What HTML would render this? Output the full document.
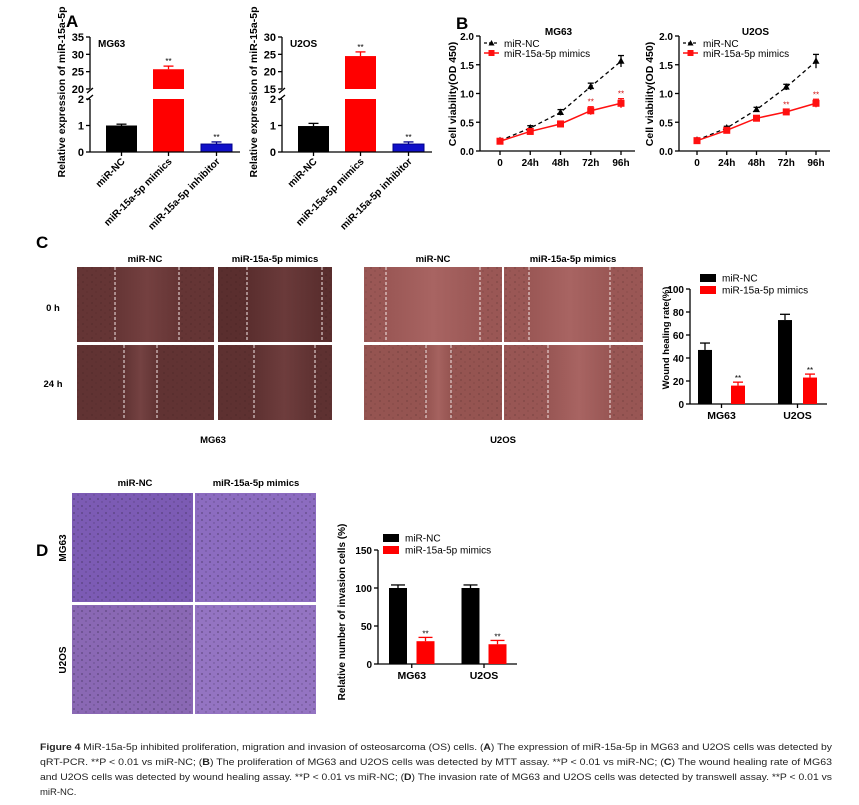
<!DOCTYPE html>
<html><head><meta charset="utf-8"><style>
html,body{margin:0;padding:0;background:#fff;}
svg{display:block;font-family:"Liberation Sans",Arial,sans-serif;}
</style></head><body>
<svg id="fig" width="859" height="805" viewBox="0 0 859 805" xmlns="http://www.w3.org/2000/svg">
<defs>
<pattern id="speck" width="9" height="7" patternUnits="userSpaceOnUse"><circle cx="2" cy="2" r="0.6" fill="#2a1414" opacity="0.5"/><circle cx="6" cy="5" r="0.5" fill="#2a1414" opacity="0.4"/></pattern>
<pattern id="speckP" width="8" height="7" patternUnits="userSpaceOnUse"><circle cx="2" cy="2" r="0.9" fill="#3a2a50" opacity="0.55"/><circle cx="6" cy="5" r="0.7" fill="#3a2a50" opacity="0.45"/></pattern>
</defs>
<g id="root"></g>
</svg>
<script>
// Panel A data
const aCats=['miR-NC','miR-15a-5p mimics','miR-15a-5p inhibitor'];
const aMG63=[1.0,25.7,0.3];
const aMG63Err=[0.05,0.9,0.08];
const aU2OS=[0.98,24.5,0.3];
const aU2OSErr=[0.1,1.2,0.08];
const aMG63Upper=[20,25,30,35];
const aU2OSUpper=[15,20,25,30];
const aLower=[0,1,2];
// Panel B data
const bTimes=['0','24h','48h','72h','96h'];
const bTicks=[0.0,0.5,1.0,1.5,2.0];
const bMG63NC=[0.18,0.40,0.67,1.12,1.56];
const bMG63NCErr=[0.02,0.04,0.05,0.06,0.10];
const bMG63Mim=[0.17,0.34,0.47,0.70,0.83];
const bMG63MimErr=[0.02,0.03,0.05,0.07,0.08];
const bU2OSNC=[0.19,0.40,0.72,1.11,1.56];
const bU2OSNCErr=[0.02,0.03,0.04,0.05,0.12];
const bU2OSMim=[0.18,0.36,0.57,0.68,0.83];
const bU2OSMimErr=[0.02,0.03,0.03,0.04,0.07];
// Panel C data
const cCats=['MG63','U2OS'];
const cNC=[47,73];
const cNCErr=[6,5];
const cMim=[16,23];
const cMimErr=[3,3];
const cTicks=[0,20,40,60,80,100];
// Panel D data
const dCats=['MG63','U2OS'];
const dNC=[100,100];
const dNCErr=[4,4];
const dMim=[30,26];
const dMimErr=[5,5];
const dTicks=[0,50,100,150];

const NS='http://www.w3.org/2000/svg';
const root=document.getElementById('root');
function el(tag,attrs,parent,text){const e=document.createElementNS(NS,tag);for(const k in attrs)e.setAttribute(k,attrs[k]);if(text!==undefined)e.textContent=text;(parent||root).appendChild(e);return e;}
function grp(name){const g=el('g',{});


return g;}
function line(g,x1,y1,x2,y2,st){return el('line',Object.assign({x1,y1,x2,y2,stroke:'#000','stroke-width':1.3},st||{}),g);}
function txt(g,x,y,s,o){return el('text',Object.assign({x,y,'font-size':10,'font-weight':'bold','text-anchor':'middle',fill:'#000'},o||{}),g,s);}
function errbar(g,x,yTop,yBase,w,color){line(g,x,yTop,x,yBase,{stroke:color});line(g,x-w,yTop,x+w,yTop,{stroke:color});}

// Panel letters
[['A',66,27],['B',456,29],['C',36,248],['D',36,556]].forEach(p=>{const t=txt(root,p[1],p[2],p[0],{'font-size':17,'text-anchor':'start'});

});

// ---------- Panel A ----------
function drawA(ox,vals,errs,upper,title,ylx,nm){
  const g=grp(nm);
  const y0=152,y2=99,uT=89,uB=37;
  const yl=v=>y0-(v/2)*(y0-y2);
  const u0=upper[0],u1=upper[upper.length-1];
  const yu=v=>uT-(v-u0)/(u1-u0)*(uT-uB);
  const cx=[31.5,78.5,126.5].map(d=>ox+d), w=31;
  const colors=['#000','#ff0000','#1010c8'];
  vals.forEach((v,i)=>{
    let r;
    if(v>2){
      r=el('rect',{x:cx[i]-w/2,y:y2,width:w,height:y0-y2,fill:colors[i]},g);
      
      
      r=el('rect',{x:cx[i]-w/2,y:yu(v),width:w,height:uT-yu(v),fill:colors[i]},g);
      errbar(g,cx[i],yu(v+errs[i]),yu(v),5,colors[i]);
      txt(g,cx[i],yu(v+errs[i])-2,'**',{'font-size':8,'font-weight':'normal'});
    }else{
      r=el('rect',{x:cx[i]-w/2,y:yl(v),width:w,height:y0-yl(v),fill:colors[i],stroke:i==2?'#00008a':'none','stroke-width':1},g);
      errbar(g,cx[i],yl(v+errs[i]),yl(v),5,i==2?'#00008a':'#000');
      if(i>0) txt(g,cx[i],yl(v+errs[i])-2,'**',{'font-size':8,'font-weight':'normal'});
    }
    
    
  });
  line(g,ox,y0,ox,y2);line(g,ox,uT,ox,uB);
  line(g,ox-3,y2+1,ox+3,y2-4);line(g,ox-3,uT+4,ox+3,uT-1);
  line(g,ox,y0,ox+150,y0);
  aLower.forEach(t=>{line(g,ox-4,yl(t),ox,yl(t));txt(g,ox-6,yl(t)+4,String(t),{'text-anchor':'end','font-size':11});});
  upper.forEach(t=>{line(g,ox-4,yu(t),ox,yu(t));txt(g,ox-6,yu(t)+4,String(t),{'text-anchor':'end','font-size':11});});
  cx.forEach((x,i)=>{line(g,x,y0,x,y0+4);
    txt(g,x+4,y0+10,aCats[i],{'text-anchor':'end','font-size':10,transform:`rotate(-45 ${x+4} ${y0+10})`});});
  txt(g,ox+8,47,title,{'text-anchor':'start','font-size':10});
  txt(g,ylx,92,'Relative expression of miR-15a-5p',{'font-size':10.5,transform:`rotate(-90 ${ylx} 92)`});
}
drawA(90,aMG63,aMG63Err,aMG63Upper,'MG63',65,'chart-a-mg63');
drawA(282,aU2OS,aU2OSErr,aU2OSUpper,'U2OS',257,'chart-a-u2os');

// ---------- Panel B ----------
function drawB(ox,x0,dx,nc,ncE,mim,mimE,title,ylx,nm){
  const g=grp(nm);
  const y=v=>151-v*57.5;
  const x=i=>x0+i*dx;
  line(g,ox,151,ox,36);line(g,ox,151,x(4)+14,151);
  bTicks.forEach(t=>{line(g,ox-4,y(t),ox,y(t));txt(g,ox-6,y(t)+4,t.toFixed(1),{'text-anchor':'end','font-size':10});});
  bTimes.forEach((s,i)=>{line(g,x(i),151,x(i),155);txt(g,x(i),166,s,{'font-size':10});});
  el('polyline',{points:nc.map((v,i)=>x(i)+','+y(v)).join(' '),fill:'none',stroke:'#000','stroke-width':1.3,'stroke-dasharray':'4,3'},g);
  el('polyline',{points:mim.map((v,i)=>x(i)+','+y(v)).join(' '),fill:'none',stroke:'#ff1010','stroke-width':1.5},g);
  nc.forEach((v,i)=>{errbar(g,x(i),y(v+ncE[i]),y(v-ncE[i]),3,'#000');
    const p=el('polygon',{points:`${x(i)},${y(v)-4} ${x(i)-3.5},${y(v)+2.5} ${x(i)+3.5},${y(v)+2.5}`,fill:'#000'},g);
    
    });
  mim.forEach((v,i)=>{errbar(g,x(i),y(v+mimE[i]),y(v-mimE[i]),3,'#ff1010');
    const r=el('rect',{x:x(i)-3.5,y:y(v)-3.5,width:7,height:7,fill:'#ff1010'},g);
    
    
    if(i>=3) txt(g,x(i),y(v+mimE[i])-2,'**',{'font-size':8,'font-weight':'normal',fill:'#d01010'});});
  txt(g,(ox+x(4))/2+8,35,title,{'font-size':10});
  const lx=ox+4;
  line(g,lx,43,lx+15,43,{'stroke-dasharray':'3,2'});
  el('polygon',{points:`${lx+7.5},${40} ${lx+4.5},${45.5} ${lx+10.5},${45.5}`,fill:'#000'},g);
  txt(g,lx+20,47,'miR-NC',{'text-anchor':'start','font-weight':'normal','font-size':10});
  line(g,lx,53,lx+15,53,{stroke:'#ff1010','stroke-width':1.5});
  el('rect',{x:lx+4.5,y:50,width:6,height:6,fill:'#ff1010'},g);
  txt(g,lx+20,57,'miR-15a-5p mimics',{'text-anchor':'start','font-weight':'normal','font-size':10});
  txt(g,ylx,94,'Cell viability(OD 450)',{'font-size':10.5,transform:`rotate(-90 ${ylx} 94)`});
}
drawB(480,500,30.25,bMG63NC,bMG63NCErr,bMG63Mim,bMG63MimErr,'MG63',456,'chart-b-mg63');
drawB(679,697,29.75,bU2OSNC,bU2OSNCErr,bU2OSMim,bU2OSMimErr,'U2OS',653,'chart-b-u2os');

// ---------- Grouped bar charts (C, D) ----------
function drawBars(o){
  const g=grp(o.nm);
  const y=v=>o.y0-(v/o.max)*(o.y0-o.yTop);
  line(g,o.ox,o.y0,o.ox,o.yTop);line(g,o.ox,o.y0,o.xEnd,o.y0);
  o.ticks.forEach(t=>{line(g,o.ox-4,y(t),o.ox,y(t));txt(g,o.ox-6,y(t)+4,String(t),{'text-anchor':'end','font-size':10});});
  o.cats.forEach((c,i)=>{
    const cb=o.cNC[i],cr=o.cM[i];
    const r1=el('rect',{x:cb-o.w/2,y:y(o.nc[i]),width:o.w,height:o.y0-y(o.nc[i]),fill:'#000'},g);
    
    
    errbar(g,cb,y(o.nc[i]+o.ncE[i]),y(o.nc[i]),o.w/2-2,'#000');
    const r2=el('rect',{x:cr-o.w/2,y:y(o.mim[i]),width:o.w,height:o.y0-y(o.mim[i]),fill:'#ff0000'},g);
    
    
    errbar(g,cr,y(o.mim[i]+o.mimE[i]),y(o.mim[i]),o.w/2-2,'#ff0000');
    txt(g,cr,y(o.mim[i]+o.mimE[i])-1,'**',{'font-size':8,'font-weight':'normal'});
    line(g,(cb+cr)/2,o.y0,(cb+cr)/2,o.y0+4);
    txt(g,(cb+cr)/2,o.y0+15,c,{'font-size':10.5});
  });
  el('rect',{x:o.lx,y:o.ly-4,width:16,height:8,fill:'#000'},g);
  txt(g,o.lx+22,o.ly+3.5,'miR-NC',{'text-anchor':'start','font-weight':'normal','font-size':10});
  el('rect',{x:o.lx,y:o.ly+8,width:16,height:8,fill:'#ff0000'},g);
  txt(g,o.lx+22,o.ly+15.5,'miR-15a-5p mimics',{'text-anchor':'start','font-weight':'normal','font-size':10});
  txt(g,o.ylx,o.yly,o.ylab,{'font-size':o.yfs,transform:`rotate(-90 ${o.ylx} ${o.yly})`});
}
drawBars({nm:'chart-c-wound-healing',ox:690,y0:404,yTop:289,max:100,xEnd:827,ticks:cTicks,cats:cCats,nc:cNC,ncE:cNCErr,mim:cMim,mimE:cMimErr,cNC:[705,785],cM:[738,810],w:14,lx:700,ly:278,ylx:669,yly:338,yfs:9.5,ylab:'Wound healing rate(%)'});
drawBars({nm:'chart-d-invasion',ox:378,y0:664,yTop:550,max:150,xEnd:517,ticks:dTicks,cats:dCats,nc:dNC,ncE:dNCErr,mim:dMim,mimE:dMimErr,cNC:[398,470.5],cM:[425.5,497.5],w:18,lx:383,ly:538,ylx:345,yly:612,yfs:10,ylab:'Relative number of invasion cells (%)'});

// ---------- Micrographs panel C ----------
const gC=grp('wound-healing-images');
function wound(x,y,w,h,base,light,dashes,nm){
  const id='gr'+nm;
  const lg=el('linearGradient',{id:id,x1:0,x2:1,y1:0,y2:0},document.querySelector('defs'));
  const a=(dashes[0]-x)/w,b=(dashes[1]-x)/w;
  [[0,base],[a,base],[(a+b)/2,light],[b,base],[1,base]].forEach(s=>el('stop',{offset:s[0],'stop-color':s[1]},lg));
  const r=el('rect',{x,y,width:w,height:h,fill:`url(#${id})`},gC);
  
  
  el('rect',{x,y,width:dashes[0]-x,height:h,fill:'url(#speck)'},gC);
  el('rect',{x:dashes[1],y,width:x+w-dashes[1],height:h,fill:'url(#speck)'},gC);
  dashes.forEach(d=>line(gC,d,y,d,y+h,{stroke:'#f4e8e8','stroke-width':1,'stroke-dasharray':'3,2'}));
}
wound(77,267,137,75,'#653535','#744040',[115,179],'mg63-nc-0h');
wound(218,267,114,75,'#5a2e2e','#6a3a3a',[247,322],'mg63-mimics-0h');
wound(77,345,137,75,'#613333','#744242',[124,157],'mg63-nc-24h');
wound(218,345,114,75,'#5e3131','#6e3d3d',[254,315],'mg63-mimics-24h');
wound(364,267,138,75,'#9a5755','#a86462',[386,480],'u2os-nc-0h');
wound(504,267,139,75,'#9a5755','#a86462',[529,610],'u2os-mimics-0h');
wound(364,345,138,75,'#955451','#a5625f',[426,451],'u2os-nc-24h');
wound(504,345,139,75,'#985654','#a86462',[548,610],'u2os-mimics-24h');
txt(gC,145,262,'miR-NC',{'font-size':9.5});
txt(gC,275,262,'miR-15a-5p mimics',{'font-size':9.5});
txt(gC,433,262,'miR-NC',{'font-size':9.5});
txt(gC,573,262,'miR-15a-5p mimics',{'font-size':9.5});
txt(gC,53,311,'0 h',{'font-size':9.5});
txt(gC,53,387,'24 h',{'font-size':9.5});
txt(gC,213,443,'MG63',{'font-size':9.5});
txt(gC,503,443,'U2OS',{'font-size':9.5});

// ---------- Micrographs panel D ----------
const gD=grp('invasion-images');
[[72,493,'#7c5bb4','mg63-nc'],[195,493,'#8c6cc0','mg63-mimics'],[72,605,'#8a68b4','u2os-nc'],[195,605,'#9474c2','u2os-mimics']].forEach(p=>{
  const r=el('rect',{x:p[0],y:p[1],width:121,height:109,fill:p[2]},gD);
  
  
  el('rect',{x:p[0],y:p[1],width:121,height:109,fill:'url(#speckP)'},gD);
});
txt(gD,135,486,'miR-NC',{'font-size':9.5});
txt(gD,256,486,'miR-15a-5p mimics',{'font-size':9.5});
txt(gD,66,548,'MG63',{'font-size':10,transform:'rotate(-90 66 548)'});
txt(gD,66,660,'U2OS',{'font-size':10,transform:'rotate(-90 66 660)'});

// ---------- Caption ----------
const gCap=grp('figure-caption');
const capLines=[
 [['b','Figure 4'],['n',' MiR-15a-5p inhibited proliferation, migration and invasion of osteosarcoma (OS) cells. ('],['b','A'],['n',') The expression of miR-15a-5p in MG63 and U2OS cells was detected by']],
 [['n','qRT-PCR. **P < 0.01 vs miR-NC; ('],['b','B'],['n',') The proliferation of MG63 and U2OS cells was detected by MTT assay. **P < 0.01 vs miR-NC; ('],['b','C'],['n',') The wound healing rate of MG63']],
 [['n','and U2OS cells was detected by wound healing assay. **P < 0.01 vs miR-NC; ('],['b','D'],['n',') The invasion rate of MG63 and U2OS cells was detected by transwell assay. **P < 0.01 vs']],
 [['n','miR-NC.']]
];
capLines.forEach((ln,i)=>{
  const t=el('text',{x:40,y:750+i*15,'font-size':9.5,fill:'#222'},gCap);
  if(i<3){t.setAttribute('textLength',792);t.setAttribute('lengthAdjust','spacingAndGlyphs');}
  ln.forEach(s=>el('tspan',s[0]=='b'?{'font-weight':'bold'}:{},t,s[1]));
});
</script>
</body></html>
